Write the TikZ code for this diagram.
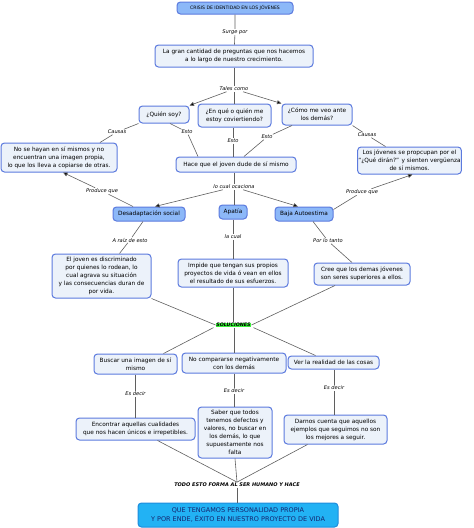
\documentclass[tikz,border=0pt]{standalone}
\usepackage{fontspec}
\setmainfont{DejaVu Sans}
\usetikzlibrary{arrows.meta}
\definecolor{bord}{RGB}{92,122,222}
\definecolor{lfill}{RGB}{236,242,250}
\definecolor{mfill}{RGB}{140,184,248}
\definecolor{cfill}{RGB}{34,178,244}
\definecolor{cbord}{RGB}{30,140,220}
\definecolor{ctext}{RGB}{20,36,110}
\definecolor{edgec}{RGB}{95,95,95}
\definecolor{solg}{RGB}{60,240,60}
\begin{document}
\begin{tikzpicture}[x=1pt,y=-1pt,
  box/.style={draw=bord, fill=lfill, rounded corners=3.5pt, line width=1pt, align=center,
    font=\fontsize{5.8}{7.9}\selectfont, inner sep=0.8pt},
  bbox/.style={box, fill=mfill},
  lab/.style={fill=white, inner sep=0.6pt, font=\fontsize{5.1}{6}\selectfont\itshape},
  con/.style={draw=edgec, line width=0.6pt},
  arr/.style={con, -{Triangle[length=4.5pt,width=4pt,fill=black]}}
]
\useasboundingbox (0,0) rectangle (474,528);
% nodes
\node[bbox, minimum width=116pt, minimum height=12pt, font=\fontsize{4.6}{5}\selectfont] (title) at (235,8) {CRISIS DE IDENTIDAD EN LOS JÓVENES};
\node[box, minimum width=158pt, minimum height=22pt] (q) at (234,56) {La gran cantidad de preguntas que nos hacemos\\ a lo largo de nuestro crecimiento.};
\node[box, minimum width=50pt, minimum height=17pt] (quien) at (164,114.5) {¿Quién soy?};
\node[box, minimum width=73pt, minimum height=23pt] (enque) at (234.5,115.5) {¿En qué o quién me\\ estoy coviertiendo?};
\node[box, minimum width=70pt, minimum height=21pt] (como) at (317,114.5) {¿Cómo me veo ante\\ los demás?};
\node[box, minimum width=120pt, minimum height=15pt] (hace) at (236,164.5) {Hace que el joven dude de sí mismo};
\node[box, minimum width=116pt, minimum height=29pt] (left) at (59,157.5) {No se hayan en sí mismos y no\\ encuentran una imagen propia,\\ lo que los lleva a copiarse de otras.};
\node[box, minimum width=101pt, minimum height=27pt] (right) at (409.5,160.5) {Los jóvenes se propcupan por el\\ “¿Qué dirán?” y sienten vergüenza\\ de sí mismos.};
\node[bbox, minimum width=72pt, minimum height=14pt] (desad) at (149,214) {Desadaptación social};
\node[bbox, minimum width=28pt, minimum height=14pt] (apatia) at (233,212) {Apatía};
\node[bbox, minimum width=58pt, minimum height=14pt] (baja) at (304,214) {Baja Autoestima};
\node[box, minimum width=99pt, minimum height=44pt] (joven) at (101.5,276) {El joven es discriminado\\ por quienes lo rodean, lo\\ cual agrava su situación\\ y las consecuencias duran de\\ por vida.};
\node[box, minimum width=110pt, minimum height=28pt] (impide) at (233,273) {Impide que tengan sus propios\\ proyectos de vida ó vean en ellos\\ el resultado de sus esfuerzos.};
\node[box, minimum width=96pt, minimum height=22pt] (cree) at (362,274) {Cree que los demas jóvenes\\ son seres superiores a ellos.};
\node[fill=solg, inner sep=0.6pt, font=\fontsize{4.8}{5}\selectfont\bfseries\itshape] (sol) at (233.5,325) {SOLUCIONES};
\node[box, minimum width=83pt, minimum height=20pt] (buscar) at (135.5,364) {Buscar una imagen de sí\\ mismo};
\node[box, minimum width=104pt, minimum height=20pt] (nocomp) at (234,363) {No compararse negativamente\\ con los demás};
\node[box, minimum width=91pt, minimum height=13pt] (ver) at (333.5,362.5) {Ver la realidad de las cosas};
\node[box, minimum width=119pt, minimum height=22pt] (encontrar) at (135.5,429) {Encontrar aquellas cualidades\\ que nos hacen únicos e irrepetibles.};
\node[box, minimum width=74pt, minimum height=51pt] (saber) at (235,432.5) {Saber que todos\\ tenemos defectos y\\ valores, no buscar en\\ los demás, lo que\\ supuestamente nos\\ falta};
\node[box, minimum width=103pt, minimum height=29pt] (darnos) at (335.5,429.5) {Darnos cuenta que aquellos\\ ejemplos que seguimos no son\\ los mejores a seguir.};
\node[fill=white, inner sep=0.8pt, font=\fontsize{5}{6}\selectfont\bfseries\itshape] (todo) at (237,485) {TODO ESTO FORMA AL SER HUMANO Y HACE};
\node[draw=cbord, fill=cfill, rounded corners=3.5pt, line width=1pt, align=center, text=ctext,
  minimum width=200pt, minimum height=24pt, inner sep=1pt, font=\fontsize{6.5}{8.4}\selectfont] (final) at (238,515) {QUE TENGAMOS PERSONALIDAD PROPIA\\ Y POR ENDE, ÉXITO EN NUESTRO PROYECTO DE VIDA};
% labels
\node[lab] (surge) at (235,32) {Surge por};
\node[lab] (tales) at (234,89) {Tales como};
\node[lab] (causasL) at (117,132) {Causas};
\node[lab] (estoL) at (187,132) {Esto};
\node[lab] (estoM) at (233,141) {Esto};
\node[lab] (estoR) at (267,137) {Esto};
\node[lab] (causasR) at (367,135) {Causas};
\node[lab] (ocac) at (234,187) {lo cual ocaciona};
\node[lab] (produceL) at (102,191) {Produce que};
\node[lab] (produceR) at (362,192) {Produce que};
\node[lab] (araiz) at (130,240) {A raíz de esto};
\node[lab] (lacual) at (233,237) {la cual};
\node[lab] (porlo) at (328,241) {Por lo tanto};
\node[lab] (esd1) at (135.5,394) {Es decir};
\node[lab] (esd2) at (234,391) {Es decir};
\node[lab] (esd3) at (334,388) {Es decir};
% connectors
\draw[con] (title) -- (surge) -- (q);
\draw[con] (q) -- (tales);
\draw[arr] (tales) -- (quien.north east);
\draw[con] (tales) -- (tales |- enque.north);
\draw[arr] (tales) -- (como.north west);
\draw[con] ([xshift=6pt]quien.south) -- (estoL) -- ([xshift=-38pt]hace.north);
\draw[con] (estoM |- enque.south) -- (estoM) -- (estoM |- hace.north);
\draw[con] ([xshift=-25pt]como.south) -- (estoR) -- ([xshift=8pt]hace.north);
\draw[con] (quien.south west) -- (causasL) -- ([xshift=41pt]left.north);
\draw[con] (como.south east) -- (causasR) -- ([xshift=-24pt]right.north);
\draw[con] (ocac |- hace.south) -- (ocac);
\draw[arr] (ocac) -- ([xshift=6pt]desad.north);
\draw[con] (ocac) -- (ocac |- apatia.north);
\draw[arr] (ocac) -- ([xshift=-6pt]baja.north);
\draw[con] ([xshift=-16pt]desad.north) -- (produceL);
\draw[arr] (produceL) -- ([xshift=4pt]left.south);
\draw[con] ([yshift=-3pt]baja.north east) -- (produceR);
\draw[arr] (produceR) -- ([xshift=3pt]right.south);
\draw[con] ([xshift=-6pt]desad.south) -- (araiz) -- ([xshift=18pt]joven.north);
\draw[con] (lacual |- apatia.south) -- (lacual) -- (lacual |- impide.north);
\draw[con] ([xshift=9pt]baja.south) -- (porlo) -- ([xshift=-10pt]cree.north);
\draw[con] (joven.south east) -- (sol.west);
\draw[con] (impide.south) -- (impide.south |- sol.north);
\draw[con] ([xshift=-27pt]cree.south) -- (sol.east);
\draw[con] ([xshift=-20pt]sol.south) -- ([xshift=28pt]buscar.north);
\draw[con] (nocomp.north |- sol.south) -- (nocomp.north);
\draw[con] ([xshift=20pt]sol.south) -- ([xshift=-18pt]ver.north);
\draw[con] (buscar.south) -- (esd1) -- (encontrar.north);
\draw[con] (nocomp.south) -- (esd2) -- (esd2 |- saber.north);
\draw[con] (esd3 |- ver.south) -- (esd3) -- (esd3 |- darnos.north);
\draw[con] ([xshift=22pt]encontrar.south) -- (todo.north);
\draw[con] (saber.south) -- (todo.north);
\draw[con] ([xshift=-28pt]darnos.south) -- (todo.north);
\draw[con] (todo.south) -- (todo.south |- final.north);
\end{tikzpicture}
\end{document}
